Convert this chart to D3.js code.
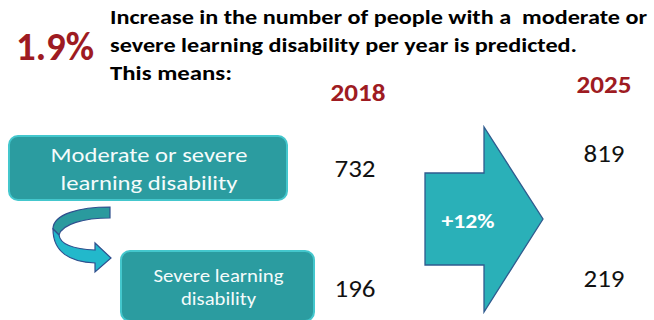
<!DOCTYPE html>
<html>
<head>
<meta charset="utf-8">
<script src="https://cdn.jsdelivr.net/npm/d3@7"></script>
<style>
  body { margin: 0; background: #fff; }
  svg { display: block; font-family: Carlito, Calibri, "Open Sans", sans-serif; }
  text.head { white-space: pre; }
</style>
</head>
<body>
<div id="chart"></div>
<script>
// values
var years = ["2018", "2025"];
var groups = ["Moderate or severe learning disability", "Severe learning disability"];
var counts2018 = [732, 196];
var counts2025 = [819, 219];
var annualGrowth = "1.9%";
var totalChange = "+12%";
var headline = [
  "Increase in the number of people with a  moderate or",
  "severe learning disability per year is predicted.",
  "This means:"
];
var boxLines = [
  ["Moderate or severe", "learning disability"],
  ["Severe learning", "disability"]
];

var width = 654, height = 320;
var red = "#9e1b22";

var svg = d3.select("#chart")
  .append("svg")
  .attr("width", width)
  .attr("height", height);

function fit(sel, w) {
  return sel.attr("textLength", w).attr("lengthAdjust", "spacingAndGlyphs");
}

// headline
fit(svg.append("text")
  .attr("x", 16)
  .attr("y", 60)
  .attr("font-size", 40)
  .attr("font-weight", "bold")
  .attr("fill", red)
  .text(annualGrowth), 78);

var headW = [537, 467, 122];
svg.selectAll("text.head")
  .data(headline)
  .enter()
  .append("text")
  .attr("class", "head")
  .attr("x", 110)
  .attr("y", function(d, i) { return 24 + i * 27.8; })
  .attr("font-size", 20.5)
  .attr("font-weight", "bold")
  .attr("fill", "#000")
  .attr("textLength", function(d, i) { return headW[i]; })
  .attr("lengthAdjust", "spacingAndGlyphs")
  .text(function(d) { return d; });

// columns for the two years
var x = d3.scalePoint()
  .domain(years)
  .range([358, 604]);

var yearBase = { "2018": 101, "2025": 93 };
var rowY = {
  "2018": d3.scalePoint().domain(groups).range([177, 297]),
  "2025": d3.scalePoint().domain(groups).range([162, 287])
};

svg.selectAll("text.year")
  .data(years)
  .enter()
  .append("text")
  .attr("class", "year")
  .attr("x", function(d) { return x(d); })
  .attr("y", function(d) { return yearBase[d]; })
  .attr("text-anchor", "middle")
  .attr("font-size", 25)
  .attr("font-weight", "bold")
  .attr("fill", red)
  .attr("textLength", 55)
  .attr("lengthAdjust", "spacingAndGlyphs")
  .text(function(d) { return d; });

var cells = [];
groups.forEach(function(g, i) {
  cells.push({ year: "2018", group: g, value: counts2018[i] });
  cells.push({ year: "2025", group: g, value: counts2025[i] });
});

svg.selectAll("text.num")
  .data(cells)
  .enter()
  .append("text")
  .attr("class", "num")
  .attr("x", function(d) { return x(d.year) - (d.year == "2018" ? 3 : 0); })
  .attr("y", function(d) { return rowY[d.year](d.group); })
  .attr("text-anchor", "middle")
  .attr("font-size", 24)
  .attr("fill", "#111")
  .attr("textLength", 41)
  .attr("lengthAdjust", "spacingAndGlyphs")
  .text(function(d) { return d.value; });

// big arrow between the columns
var arrowPts = [[425, 173], [484, 173], [484, 127], [543, 219], [484, 312], [484, 265], [425, 265]];
svg.append("path")
  .attr("d", d3.line()(arrowPts) + "Z")
  .attr("fill", "#2ab0b8")
  .attr("stroke", "#2f5b8e")
  .attr("stroke-width", 1.3);

fit(svg.append("text")
  .attr("x", 468)
  .attr("y", 228)
  .attr("text-anchor", "middle")
  .attr("font-size", 21)
  .attr("font-weight", "bold")
  .attr("fill", "#fff")
  .text(totalChange), 53);

// category boxes
var boxes = [
  { x: 9, y: 136, w: 278, h: 64, fs: 21, lines: boxLines[0], lw: [197, 177], base: [162, 190] },
  { x: 121, y: 251, w: 193, h: 70, fs: 18, lines: boxLines[1], lw: [130, 75], base: [282, 305] }
];

boxes.forEach(function(b) {
  svg.append("rect")
    .attr("x", b.x)
    .attr("y", b.y)
    .attr("width", b.w)
    .attr("height", b.h)
    .attr("rx", 9)
    .attr("fill", "#2b9ca0")
    .attr("stroke", "#44c7cd")
    .attr("stroke-width", 2);

  b.lines.forEach(function(t, i) {
    fit(svg.append("text")
      .attr("x", b.x + b.w / 2 + 1)
      .attr("y", b.base[i])
      .attr("text-anchor", "middle")
      .attr("font-size", b.fs)
      .attr("fill", "#f4fbfb")
      .text(t), b.lw[i]);
  });
});

// curved arrow from the first box to the second
svg.append("path")
  .attr("d", "M110,207 C80,207 53,214 53,229 L59,235 C62,224 84,218 110,218 Z")
  .attr("fill", "#2a9a9e")
  .attr("stroke", "#2f4f8e")
  .attr("stroke-width", 1.2);

svg.append("path")
  .attr("d", "M53,229 C53,252 70,262 95,263 L95,272 L111,258 L95,243 L95,250 C73,249 60,244 59,235 Z")
  .attr("fill", "#22b8cb")
  .attr("stroke", "#2f4f8e")
  .attr("stroke-width", 1.2);
</script>
</body>
</html>
